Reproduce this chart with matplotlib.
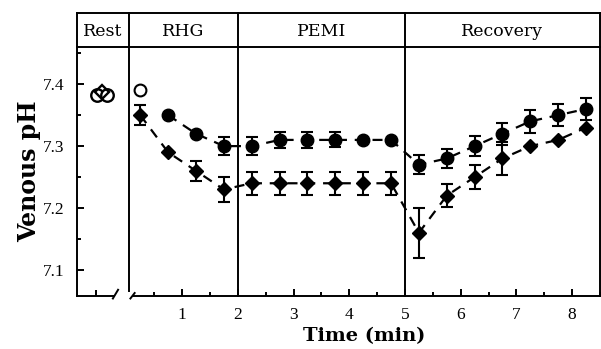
import matplotlib
matplotlib.use("Agg")
import matplotlib.pyplot as plt
from matplotlib.lines import Line2D
from matplotlib.transforms import blended_transform_factory
from matplotlib.ticker import MultipleLocator

# ---- data ----
time_circle = [0.75, 1.25, 1.75, 2.25, 2.75, 3.25, 3.75, 4.25, 4.75,
               5.25, 5.75, 6.25, 6.75, 7.25, 7.75, 8.25]
ph_circle = [7.35, 7.32, 7.30, 7.30, 7.31, 7.31, 7.31, 7.31, 7.31,
             7.27, 7.28, 7.30, 7.32, 7.34, 7.35, 7.36]
err_circle = [0, 0, 0.014, 0.014, 0.013, 0.013, 0.012, 0, 0,
              0.015, 0.016, 0.016, 0.018, 0.019, 0.018, 0.018]

time_diamond = [0.25, 0.75, 1.25, 1.75, 2.25, 2.75, 3.25, 3.75, 4.25, 4.75,
                5.25, 5.75, 6.25, 6.75, 7.25, 7.75, 8.25]
ph_diamond = [7.35, 7.29, 7.26, 7.23, 7.24, 7.24, 7.24, 7.24, 7.24, 7.24,
              7.16, 7.22, 7.25, 7.28, 7.30, 7.31, 7.33]
err_diamond = [0.016, 0, 0.016, 0.02, 0.019, 0.019, 0.019, 0.019, 0.019, 0.019,
               0.04, 0.019, 0.019, 0.026, 0, 0, 0]

open_circle_time = [0.25]
open_circle_ph = [7.39]

rest_circle_x = [0.39, 0.57]
rest_circle_ph = [7.382, 7.382]
rest_diamond_x = [0.48]
rest_diamond_ph = [7.388]

phase_labels = ["Rest", "RHG", "PEMI", "Recovery"]
phase_bounds = [2, 5]
x_ticks = [1, 2, 3, 4, 5, 6, 7, 8]
y_ticks = [7.1, 7.2, 7.3, 7.4]

# ---- layout ----
W, H = 601, 349
fig = plt.figure(figsize=(W / 100, H / 100), dpi=100)
plt.rcParams['font.family'] = ['Liberation Serif', 'DejaVu Serif']
hfont = ['DejaVu Serif']

def fx(px):
    return px / W

def fy(py):
    return 1 - py / H

left_px, rest_px, right_px = 77, 129, 600
top_px, bot_px, head_px = 47, 296, 13
ylim = (7.058, 7.46)

ax_rest = fig.add_axes([fx(left_px), fy(bot_px), fx(rest_px - left_px), fy(top_px) - fy(bot_px)])
ax = fig.add_axes([fx(rest_px), fy(bot_px), fx(right_px - rest_px), fy(top_px) - fy(bot_px)])
ax_head = fig.add_axes([fx(left_px), fy(top_px), fx(right_px - left_px), fy(head_px) - fy(top_px)])

lw = 1.4
col = "black"

# rest axes
ax_rest.set_xlim(0, 1)
ax_rest.set_ylim(*ylim)
for s in ["top", "right"]:
    ax_rest.spines[s].set_visible(False)
ax_rest.spines["left"].set_linewidth(lw)
ax_rest.spines["bottom"].set_linewidth(lw)
ax_rest.spines["bottom"].set_bounds(0, 0.72)
ax_rest.set_xticks([0.37])
ax_rest.set_xticklabels([])
ax_rest.set_yticks(y_ticks)
ax_rest.set_yticklabels([f"{v:.1f}" for v in y_ticks], fontsize=12.5)
ax_rest.yaxis.set_minor_locator(MultipleLocator(0.05))
ax_rest.tick_params(axis="both", which="major", direction="in", length=5, width=lw, pad=9)
ax_rest.tick_params(axis="both", which="minor", direction="in", length=3, width=lw)
ax_rest.tick_params(axis="x", length=4)
ax_rest.plot(rest_circle_x, rest_circle_ph, "o", ms=9, mfc="white", mec=col, mew=1.7, ls="none")
ax_rest.plot(rest_diamond_x, rest_diamond_ph, "D", ms=7, mfc="none", mec=col, mew=1.7, ls="none")
ax_rest.plot([0.69, 0.79], [-0.01, 0.025], color=col, lw=lw, transform=ax_rest.transAxes, clip_on=False)
ax_rest.set_ylabel("Venous pH", fontsize=17, fontweight="bold", labelpad=1, family=hfont)

# main axes
x0 = 0.048
ax.set_xlim(x0, 8.5)
ax.set_ylim(*ylim)
for s in ["top", "left"]:
    ax.spines[s].set_visible(False)
ax.spines["right"].set_linewidth(lw)
ax.spines["bottom"].set_linewidth(lw)
ax.spines["bottom"].set_bounds(0.12, 8.5)
ax.set_yticks([])
ax.set_xticks(x_ticks)
ax.set_xticklabels([str(v) for v in x_ticks], fontsize=12.5)
ax.xaxis.set_minor_locator(MultipleLocator(0.5))
ax.tick_params(axis="x", which="major", direction="in", length=5, width=lw, pad=8)
ax.tick_params(axis="x", which="minor", direction="in", length=3, width=lw)
ax.tick_params(axis="y", which="both", left=False, right=False)
ax.plot([0.003, 0.012], [-0.01, 0.012], color=col, lw=lw, transform=ax.transAxes, clip_on=False)
ax.set_xlabel("Time (min)", fontsize=14, fontweight="bold", labelpad=3, family=hfont)

# error bars
ax.errorbar(time_circle, ph_circle, yerr=err_circle, fmt="none", ecolor=col, elinewidth=1.5, capsize=4.5, capthick=1.5, zorder=2)
ax.errorbar(time_diamond, ph_diamond, yerr=err_diamond, fmt="none", ecolor=col, elinewidth=1.5, capsize=4.5, capthick=1.5, zorder=2)
# lines
ax.plot(time_circle, ph_circle, color=col, lw=1.6, ls=(0, (4.5, 3.5)), zorder=1)
ax.plot(time_diamond, ph_diamond, color=col, lw=1.6, ls=(0, (4.5, 3.5)), zorder=1)
# markers
ax.plot(time_circle, ph_circle, "o", ms=9, color=col, ls="none", zorder=3)
ax.plot(time_diamond, ph_diamond, "D", ms=7, color=col, ls="none", zorder=3)
ax.plot(open_circle_time, open_circle_ph, "o", ms=8.5, mfc="white", mec=col, mew=1.5, ls="none", zorder=3)

# header box
ax_head.set_xticks([])
ax_head.set_yticks([])
for s in ax_head.spines.values():
    s.set_linewidth(lw)

# dividers spanning header + plot
bt = blended_transform_factory(ax.transData, fig.transFigure)
for xb in phase_bounds:
    fig.add_artist(Line2D([xb, xb], [fy(bot_px), fy(head_px)], color=col, lw=lw, transform=bt))
fig.add_artist(Line2D([x0, x0], [fy(291), fy(head_px)], color=col, lw=lw, transform=bt))

# header labels
label_x = [None, (x0 + 2) / 2, 3.5, 6.75]
label_y = fy(31)
fig.text(fx((left_px + rest_px) / 2), label_y, phase_labels[0], ha="center", va="center",
         fontsize=12.5, family=hfont)
for lab, xc in zip(phase_labels[1:], label_x[1:]):
    fig.text(xc, label_y, lab, ha="center", va="center", fontsize=12.5, transform=bt, family=hfont)

fig.savefig("out.png", dpi=100)
